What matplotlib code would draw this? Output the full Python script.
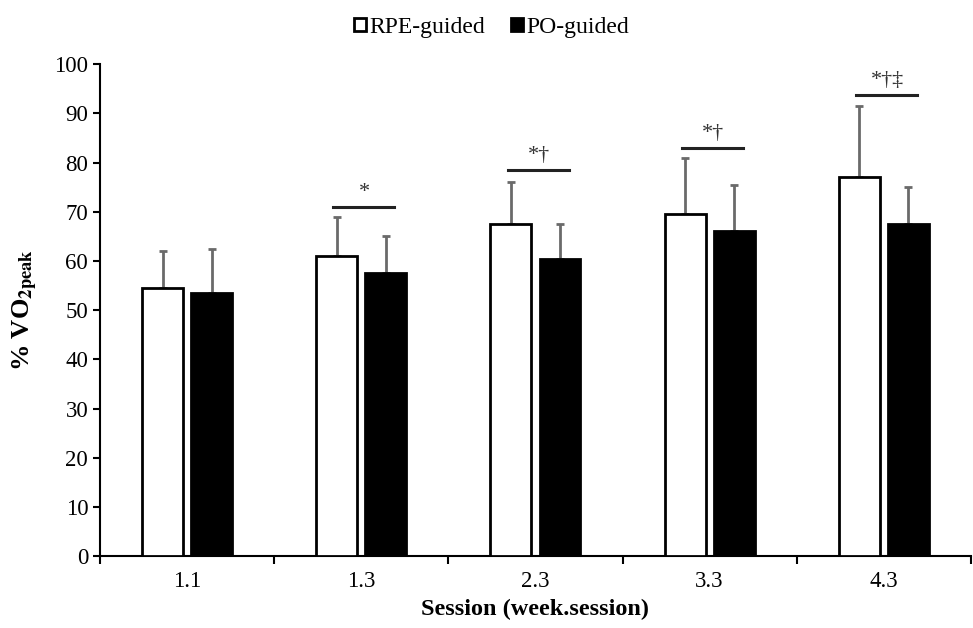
import numpy as np
import matplotlib.pyplot as plt

plt.rcParams['font.family'] = ['Liberation Serif', 'DejaVu Serif']
plt.rcParams['mathtext.fontset'] = 'stix'

# Data
sessions = ["1.1", "1.3", "2.3", "3.3", "4.3"]
rpe_mean = [54.5, 61.0, 67.5, 69.5, 77.0]
rpe_sd = [7.5, 8.0, 8.5, 11.5, 14.5]
po_mean = [53.5, 57.5, 60.5, 66.0, 67.5]
po_sd = [9.0, 7.5, 7.0, 9.5, 7.5]
sig_labels = ["", "*", "*†", "*†", "*†‡"]
sig_heights = [None, 71.0, 78.5, 83.0, 93.7]

fig = plt.figure(figsize=(9.73, 6.28), dpi=100)
ax = fig.add_axes([0.1028, 0.1146, 0.895, 0.783])

x = np.arange(len(sessions))
w = 0.235
off = 0.141

ax.bar(x - off, rpe_mean, w, color="white", edgecolor="black", linewidth=2,
       label="RPE-guided", zorder=3)
ax.bar(x + off, po_mean, w, color="black", edgecolor="black", linewidth=2,
       label="PO-guided", zorder=3)

# upward-only error bars
ax.errorbar(x - off, rpe_mean, yerr=[np.zeros(5), rpe_sd], fmt="none",
            ecolor="#6a6a6a", elinewidth=2, capsize=3, capthick=2, zorder=2)
ax.errorbar(x + off, po_mean, yerr=[np.zeros(5), po_sd], fmt="none",
            ecolor="#6a6a6a", elinewidth=2, capsize=3, capthick=2, zorder=2)

# significance lines
for i, (lab, h) in enumerate(zip(sig_labels, sig_heights)):
    if h is None:
        continue
    ax.plot([i - 0.16, i + 0.19], [h, h], color="#222222", lw=2.2)
    ax.text(i + 0.02, h + 1.0, lab, ha="center", va="bottom", fontsize=16,
            color="#333333")

ax.set_ylim(0, 100)
ax.set_xlim(-0.5, len(sessions) - 0.5)
ax.set_yticks(range(0, 101, 10))
ax.tick_params(axis="y", labelsize=16.5, length=5, width=1.5, direction="out")

ax.set_xticks(np.arange(len(sessions) + 1) - 0.5)
ax.set_xticklabels([])
ax.tick_params(axis="x", which="major", length=6, width=1.5, direction="out")
ax.set_xticks(x, minor=True)
ax.set_xticklabels(sessions, minor=True, fontsize=16.5)
ax.tick_params(axis="x", which="minor", length=0, pad=11)

for s in ["top", "right"]:
    ax.spines[s].set_visible(False)
for s in ["left", "bottom"]:
    ax.spines[s].set_linewidth(1.5)

ax.set_xlabel("Session (week.session)", fontsize=17.5, fontweight="bold", labelpad=5)
ax.set_ylabel(r"% VO$_{\mathbf{2peak}}$", fontsize=19, fontweight="bold", labelpad=10)

ax.legend(loc="upper center", bbox_to_anchor=(0.45, 1.14), ncol=2, frameon=False,
          fontsize=17, handlelength=0.5, handleheight=0.5, handletextpad=0.15,
          columnspacing=1.1)

fig.savefig("out.png", dpi=100)
